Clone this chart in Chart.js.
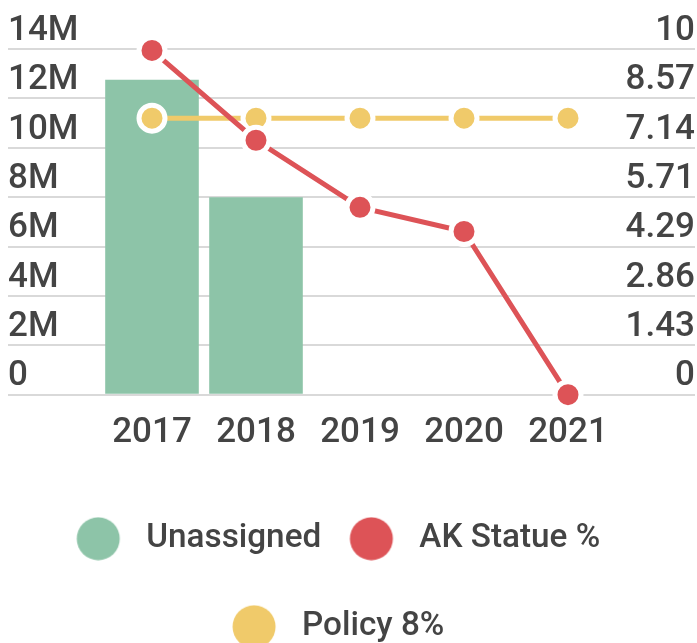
<!DOCTYPE html>
<html>
<head>
<meta charset="utf-8">
<script src="https://cdn.jsdelivr.net/npm/chart.js@4"></script>
<style>
html,body{margin:0;padding:0;background:#fff;}
#wrap{width:697px;height:643px;position:relative;}
</style>
</head>
<body>
<div id="wrap"><canvas id="c"></canvas></div>
<script>
const categories = ['2017', '2018', '2019', '2020', '2021'];
const unassigned = [12750000, 8000000, 0, 0, 0];
const akStatue = [9.96, 7.36, 5.42, 4.72, 0];
const policy8 = [8, 8, 8, 8, 8];
const leftTickLabels = ['0', '2M', '4M', '6M', '8M', '10M', '12M', '14M'];
const rightTickLabels = ['0', '1.43', '2.86', '4.29', '5.71', '7.14', '8.57', '10'];
const seriesNames = ['Unassigned', 'AK Statue %', 'Policy 8%'];

const GREEN = '#8dc4a8';
const RED = '#dd5357';
const YELLOW = '#f0ca6a';
const TEXT = '#444444';
const GRID = '#d9d9d9';

Chart.defaults.font.family = 'Roboto';
Chart.defaults.font.weight = 500;
Chart.defaults.color = TEXT;

const LEG_FONT = 33.3;
const LEG_BOX = 26.75;
const LEG_PAD = 54.7;
function marker(color) {
  const c = document.createElement('canvas');
  c.width = 100; c.height = 44;
  const g = c.getContext('2d');
  g.fillStyle = color;
  g.beginPath();
  g.arc(50 + LEG_BOX / 2 - 31.35, 22, 21.5, 0, Math.PI * 2);
  g.fill();
  return c;
}
const markers = [marker(GREEN), marker(RED), marker(YELLOW)];

new Chart(document.getElementById('c'), {
  data: {
    labels: categories,
    datasets: [
      {
        type: 'bar', label: seriesNames[0], data: unassigned, yAxisID: 'y',
        backgroundColor: GREEN, borderWidth: 0,
        barPercentage: 0.9, categoryPercentage: 1, order: 3
      },
      {
        type: 'line', label: seriesNames[1], data: akStatue, yAxisID: 'y1',
        borderColor: RED, backgroundColor: RED, borderWidth: 5,
        pointRadius: 13, pointBorderWidth: 5, pointBorderColor: '#ffffff',
        pointBackgroundColor: RED, tension: 0, order: 1, clip: false
      },
      {
        type: 'line', label: seriesNames[2], data: policy8, yAxisID: 'y1',
        borderColor: YELLOW, backgroundColor: YELLOW, borderWidth: 5,
        pointRadius: 13, pointBorderWidth: 5, pointBorderColor: '#ffffff',
        pointBackgroundColor: YELLOW, tension: 0, order: 2, clip: false
      }
    ]
  },
  options: {
    responsive: true,
    maintainAspectRatio: false,
    animation: false,
    layout: { padding: { left: 8, right: 2, top: 49, bottom: -10.35 } },
    plugins: {
      tooltip: { enabled: false },
      legend: {
        position: 'bottom',
        labels: {
          usePointStyle: true,
          boxWidth: LEG_BOX,
          padding: LEG_PAD,
          color: TEXT,
          font: { size: LEG_FONT },
          sort: (a, b) => a.datasetIndex - b.datasetIndex,
          generateLabels: (chart) => {
            const items = Chart.defaults.plugins.legend.labels.generateLabels(chart);
            items.forEach(it => { it.pointStyle = markers[it.datasetIndex]; });
            return items;
          }
        }
      }
    },
    scales: {
      x: {
        grid: { display: false },
        border: { display: false },
        ticks: { padding: 10, font: { size: 35 }, color: TEXT },
        afterFit: (s) => { s.height = 72.65; }
      },
      y: {
        position: 'left', min: 0, max: 14000000,
        ticks: {
          stepSize: 2000000, crossAlign: 'far', labelOffset: -18,
          font: { size: 35 }, color: TEXT,
          callback: (v, i) => leftTickLabels[i]
        },
        grid: { color: GRID, lineWidth: 2, tickLength: 92, drawTicks: true },
        border: { display: false },
        afterFit: (s) => { s.width = 92; }
      },
      y1: {
        position: 'right', min: 0, max: 10,
        ticks: {
          count: 8, crossAlign: 'far', labelOffset: -18,
          font: { size: 35 }, color: TEXT,
          callback: (v, i) => rightTickLabels[i]
        },
        grid: { drawOnChartArea: false, color: GRID, lineWidth: 2, tickLength: 75 },
        border: { display: false },
        afterFit: (s) => { s.width = 75; }
      }
    }
  }
});
</script>
</body>
</html>
